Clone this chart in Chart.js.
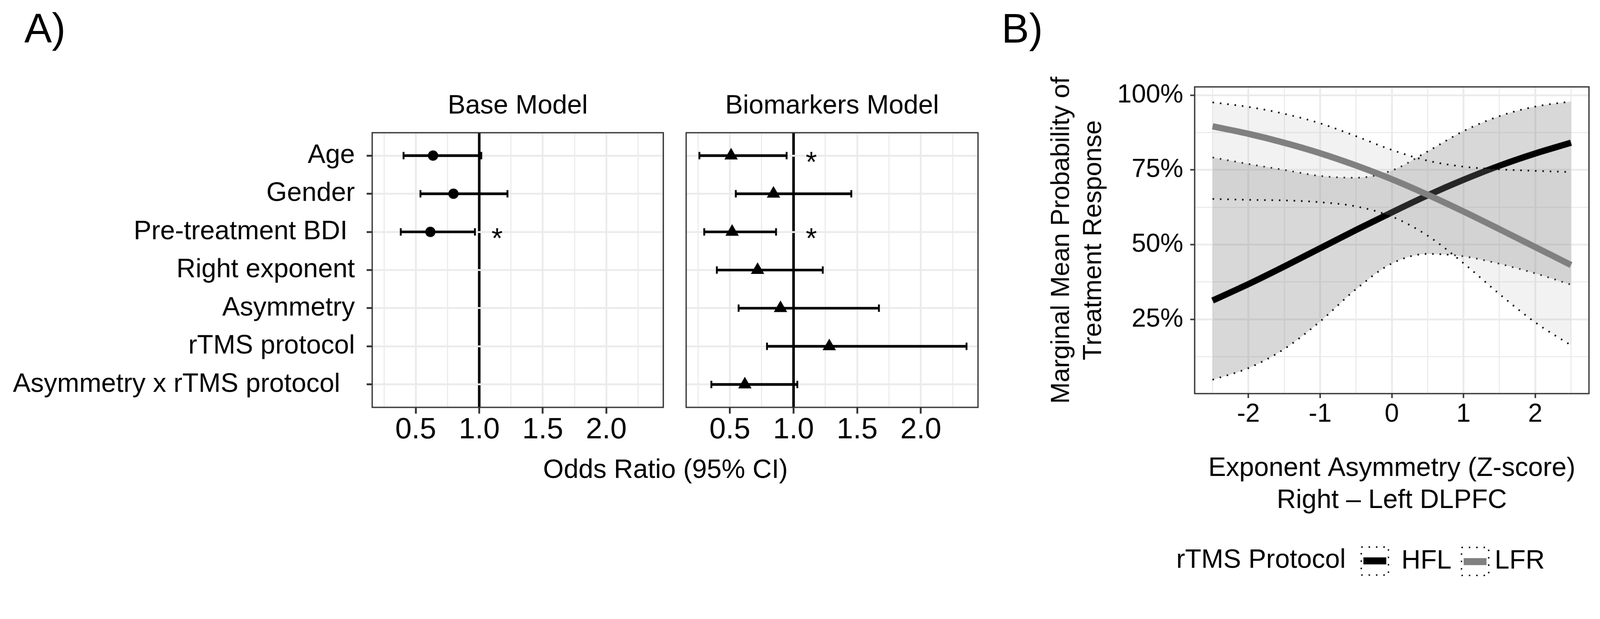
<!DOCTYPE html>
<html>
<head>
<meta charset="utf-8">
<script src="https://cdn.jsdelivr.net/npm/chart.js@4.4.1/dist/chart.umd.min.js"></script>
<style>
html,body{margin:0;padding:0;background:#fff;overflow:hidden;}
#page{position:absolute;left:0;top:0;width:4342px;height:1584px;background:#fff;overflow:hidden;font-family:"Liberation Sans",Arial,sans-serif;color:#000;transform-origin:0 0;}
canvas{position:absolute;}
.txt{position:absolute;white-space:pre;line-height:1;}
svg{position:absolute;}
</style>
</head>
<body>
<div id="page">
  <div class="txt" style="left:66px;top:20px;font-size:112px;">A)</div>
  <div class="txt" style="left:2718px;top:22px;font-size:112px;">B)</div>
  <canvas id="cBase" width="1830" height="1000" style="left:0px;top:200px;"></canvas>
  <canvas id="cBio" width="860" height="1000" style="left:1830px;top:200px;"></canvas>
  <canvas id="cB" width="1642" height="1300" style="left:2700px;top:150px;"></canvas>
  <div class="txt" style="left:1406px;width:800px;text-align:center;top:1235px;font-size:72px;">Odds Ratio (95% CI)</div>

  <div class="txt" style="left:3192px;top:1479px;font-size:72px;">rTMS Protocol</div>
  <svg style="left:3692px;top:1482px;" width="78" height="80">
    <rect x="2" y="2" width="74" height="76" fill="#fff" stroke="#000" stroke-width="4" stroke-dasharray="4 16"/>
    <rect x="8" y="30" width="62" height="19" fill="#000"/>
  </svg>
  <div class="txt" style="left:3803px;top:1481px;font-size:72px;">HFL</div>
  <svg style="left:3964px;top:1483px;" width="78" height="80">
    <rect x="2" y="2" width="74" height="76" fill="#fff" stroke="#000" stroke-width="4" stroke-dasharray="4 16"/>
    <rect x="8" y="31" width="62" height="19" fill="#808080"/>
  </svg>
  <div class="txt" style="left:4056px;top:1481px;font-size:72px;">LFR</div>
</div>

<script>
// fit the 4342x1584 layout into the actual viewport
(function () {
  const s = Math.min(window.innerWidth / 4342, window.innerHeight / 1584);
  document.getElementById('page').style.transform = 'scale(' + s + ')';
})();

// ---------- Panel A data ----------
const categories = ["Age", "Gender", "Pre-treatment BDI ", "Right exponent", "Asymmetry", "rTMS protocol", "Asymmetry x rTMS protocol  "];
const baseOR  = [0.636, 0.797, 0.615, null, null, null, null];
const baseLo  = [0.404, 0.537, 0.382, null, null, null, null];
const baseHi  = [1.016, 1.222, 0.966, null, null, null, null];
const baseSig = [false, false, true, false, false, false, false];
const bioOR   = [0.510, 0.843, 0.518, 0.718, 0.898, 1.281, 0.618];
const bioLo   = [0.261, 0.547, 0.299, 0.398, 0.569, 0.792, 0.355];
const bioHi   = [0.946, 1.454, 0.863, 1.230, 1.671, 2.359, 1.030];
const bioSig  = [true, false, true, false, false, false, false];
const orTicks = [0.25, 0.5, 0.75, 1, 1.25, 1.5, 1.75, 2, 2.25];
const orTickLabels = ["", "0.5", "", "1.0", "", "1.5", "", "2.0", ""];
const refOR = 1;
const starX = 1.14;

// ---------- Panel B data ----------
const zScores  = [-2.5, -2, -1.5, -1, -0.5, 0, 0.5, 1, 1.5, 2, 2.5];
const hflMean  = [31.3, 36.8, 42.7, 48.8, 54.9, 60.8, 66.5, 71.7, 76.4, 80.5, 84.1];
const hflLower = [4.8, 8.7, 15.1, 24.3, 35.1, 43.7, 46.9, 46.1, 43.6, 40.4, 36.6];
const hflUpper = [79.2, 77.0, 75.0, 73.0, 72.4, 74.8, 81.2, 88.0, 93.0, 96.2, 97.9];
const lfrMean  = [89.6, 87.1, 84.1, 80.6, 76.5, 71.9, 66.7, 61.1, 55.2, 49.2, 43.2];
const lfrLower = [65.3, 65.0, 64.8, 64.2, 62.8, 59.4, 53.0, 43.8, 33.5, 24.0, 16.3];
const lfrUpper = [97.6, 96.1, 93.8, 90.6, 86.3, 81.7, 78.1, 76.1, 75.2, 74.7, 74.3];
const zTicks = [-2.5, -2, -1.5, -1, -0.5, 0, 0.5, 1, 1.5, 2, 2.5];
const zTickLabels = ["", "-2", "", "-1", "", "0", "", "1", "", "2", ""];
const pctTicks = [12.5, 25, 37.5, 50, 62.5, 75, 87.5, 100];
const pctTickLabels = ["", "25%", "", "50%", "", "75%", "", "100%"];

const FONT = '"Liberation Sans", Arial, sans-serif';
Chart.defaults.font.family = FONT;
Chart.defaults.color = '#000';

const panelBorder = {
  id: 'panelBorder',
  afterDraw(chart) {
    const {ctx, chartArea: a} = chart;
    ctx.save();
    ctx.strokeStyle = '#333';
    ctx.lineWidth = 3.5;
    ctx.strokeRect(a.left, a.top, a.right - a.left, a.bottom - a.top);
    ctx.restore();
  }
};

function starPlugin(sig) {
  return {
    id: 'stars',
    afterDatasetsDraw(chart) {
      const {ctx, scales: {x, y}} = chart;
      ctx.save();
      ctx.fillStyle = '#000';
      ctx.font = '78px ' + FONT;
      ctx.textAlign = 'center';
      ctx.textBaseline = 'alphabetic';
      sig.forEach((s, i) => {
        if (s) ctx.fillText('*', x.getPixelForValue(starX), y.getPixelForValue(i) + 0.56 * 78);
      });
      ctx.restore();
    }
  };
}

function forestChart(id, cfg) {
  const rows = categories.map((c, i) => i).filter(i => cfg.or[i] !== null);
  const capStyle = {pointStyle: 'line', rotation: 90, radius: 10, borderWidth: 5, borderColor: '#000', backgroundColor: '#000'};
  return new Chart(document.getElementById(id), {
    type: 'scatter',
    data: {
      datasets: [
        {type: 'bar', indexAxis: 'y', data: rows.map(i => ({y: i, x: [cfg.lo[i], cfg.hi[i]]})),
         backgroundColor: '#000', borderWidth: 0, barThickness: 6.5, order: 4},
        Object.assign({data: rows.map(i => ({x: cfg.lo[i], y: i})), order: 3}, capStyle),
        Object.assign({data: rows.map(i => ({x: cfg.hi[i], y: i})), order: 2}, capStyle),
        {data: rows.map(i => ({x: cfg.or[i], y: i})), pointStyle: cfg.shape, radius: cfg.r,
         backgroundColor: '#000', borderColor: '#000', borderWidth: 0, order: 1}
      ]
    },
    options: {
      responsive: false, animation: false, devicePixelRatio: 1, events: [],
      layout: {padding: {left: 0, right: cfg.padR, top: 0, bottom: 0}},
      plugins: {
        legend: {display: false}, tooltip: {enabled: false},
        title: {display: true, text: cfg.title, fullSize: false, color: '#000',
                font: {size: 72, weight: 'normal', lineHeight: 1.2}, padding: {top: 44.8, bottom: 28.8}}
      },
      scales: {
        x: {
          type: 'linear', min: 0.157, max: 2.449, offset: false, beginAtZero: false,
          afterBuildTicks: s => { s.ticks = orTicks.map(v => ({value: v})); },
          afterFit: s => { s.height = 95; },
          ticks: {autoSkip: false, maxRotation: 0, minRotation: 0, padding: 5, color: '#000',
                  font: {size: 80, lineHeight: 1}, callback: (v, i) => orTickLabels[i]},
          grid: {
            offset: false, drawTicks: true, tickLength: 17,
            color: c => orTicks[c.index] === refOR ? '#000' : '#ebebeb',
            lineWidth: c => orTicks[c.index] === refOR ? 7 : (orTickLabels[c.index] ? 5 : 3),
            tickColor: c => orTickLabels[c.index] ? '#333' : 'rgba(0,0,0,0)',
            tickWidth: 5
          },
          border: {display: false}
        },
        y: {
          type: 'linear', reverse: true, min: -0.6, max: 6.6, offset: false, beginAtZero: false,
          afterBuildTicks: s => { s.ticks = categories.map((c, i) => ({value: i})); },
          afterFit: s => { s.width = cfg.yWidth; },
          ticks: {display: cfg.showY, autoSkip: false, padding: 32, color: '#000',
                  font: {size: 72}, callback: v => categories[v]},
          grid: {offset: false, color: '#ebebeb', lineWidth: 5, drawTicks: cfg.showY,
                 tickLength: 15, tickColor: '#333', tickWidth: 5},
          border: {display: false}
        }
      }
    },
    plugins: [panelBorder, starPlugin(cfg.sig)]
  });
}

forestChart('cBase', {or: baseOR, lo: baseLo, hi: baseHi, sig: baseSig, title: 'Base Model',
  shape: 'circle', r: 14, yWidth: 1010, padR: 30, showY: true});
forestChart('cBio', {or: bioOR, lo: bioLo, hi: bioHi, sig: bioSig, title: 'Biomarkers Model',
  shape: 'triangle', r: 21, yWidth: 32, padR: 36, showY: false});

// ---------- Panel B ----------
const pts = arr => zScores.map((z, i) => ({x: z, y: arr[i]}));
const dotted = {borderColor: '#000', borderWidth: 4.5, borderDash: [4, 16], borderCapStyle: 'butt', pointRadius: 0};

new Chart(document.getElementById('cB'), {
  type: 'line',
  data: {
    datasets: [
      Object.assign({label: 'HFL upper', data: pts(hflUpper), fill: 1, backgroundColor: 'rgba(127,127,127,0.3)', order: 6}, dotted),
      Object.assign({label: 'HFL lower', data: pts(hflLower), fill: false, order: 5}, dotted),
      {label: 'HFL', data: pts(hflMean), borderColor: '#000', borderWidth: 17, pointRadius: 0, fill: false, borderCapStyle: 'butt', order: 4},
      Object.assign({label: 'LFR upper', data: pts(lfrUpper), fill: 4, backgroundColor: 'rgba(191,191,191,0.2)', order: 3}, dotted),
      Object.assign({label: 'LFR lower', data: pts(lfrLower), fill: false, order: 2}, dotted),
      {label: 'LFR', data: pts(lfrMean), borderColor: '#808080', borderWidth: 17, pointRadius: 0, fill: false, borderCapStyle: 'butt', order: 1}
    ]
  },
  options: {
    responsive: false, animation: false, devicePixelRatio: 1, events: [],
    elements: {line: {tension: 0.4, cubicInterpolationMode: 'monotone'}},
    layout: {padding: {left: 0, right: 30, top: 85.6, bottom: 48.5}},
    plugins: {legend: {display: false}, tooltip: {enabled: false}, filler: {propagate: false}},
    scales: {
      x: {
        type: 'linear', min: -2.75, max: 2.75,
        afterBuildTicks: s => { s.ticks = zTicks.map(v => ({value: v})); },
        afterFit: s => { s.height = 333.8; },
        ticks: {autoSkip: false, maxRotation: 0, minRotation: 0, padding: 10.3, color: '#000',
                font: {size: 70, lineHeight: 1}, callback: (v, i) => zTickLabels[i]},
        grid: {color: '#ebebeb', lineWidth: c => zTickLabels[c.index] ? 5 : 3, tickLength: 12,
               tickColor: c => zTickLabels[c.index] ? '#333' : 'rgba(0,0,0,0)', tickWidth: 4},
        border: {display: false},
        title: {display: true, text: ['Exponent Asymmetry (Z-score)', 'Right \u2013 Left DLPFC'], color: '#000',
                font: {size: 72, lineHeight: 1.21}, padding: {top: 0, bottom: 0}}
      },
      y: {
        type: 'linear', min: 0.16, max: 102.8,
        afterBuildTicks: s => { s.ticks = pctTicks.map(v => ({value: v})); },
        afterFit: s => { s.width = 542; },
        ticks: {autoSkip: false, padding: 19, color: '#000', font: {size: 70}, callback: (v, i) => pctTickLabels[i]},
        grid: {color: '#ebebeb', lineWidth: c => pctTickLabels[c.index] ? 5 : 3, tickLength: 12,
               tickColor: c => pctTickLabels[c.index] ? '#333' : 'rgba(0,0,0,0)', tickWidth: 4},
        border: {display: false},
        title: {display: true, text: ['Marginal Mean Probability of', 'Treatment Response'], color: '#000',
                font: {size: 70, lineHeight: 1.243}, padding: {top: 138.5, bottom: 0}}
      }
    }
  },
  plugins: [panelBorder]
});
</script>
</body>
</html>
